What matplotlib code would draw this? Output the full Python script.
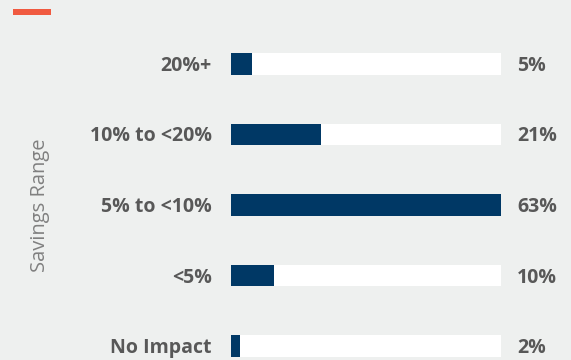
import matplotlib
matplotlib.use("Agg")
import matplotlib.pyplot as plt

# Data
categories = ["20%+", "10% to <20%", "5% to <10%", "<5%", "No Impact"]
values = [5, 21, 63, 10, 2]
value_labels = ["5%", "21%", "63%", "10%", "2%"]

bg = "#eef0ef"
bar_color = "#003865"
text_color = "#585858"

fig = plt.figure(figsize=(5.71, 3.60), dpi=100, facecolor=bg)
ax = fig.add_axes([231 / 571, 3 / 360, 270 / 571, 304 / 360])
ax.set_facecolor(bg)

h = 0.31
y = list(range(len(categories)))
ax.barh(y, [max(values)] * len(values), height=h, color="white")
ax.barh(y, values, height=h, color=bar_color)
ax.set_xlim(0, max(values))
ax.set_ylim(len(categories) - 1 + h / 2, -h / 2)
ax.axis("off")

for yi, cat, lab in zip(y, categories, value_labels):
    ax.annotate(cat, xy=(0, yi), xytext=(-19, -2), textcoords="offset pixels",
                ha="right", va="center", fontsize=14, fontweight="bold",
                color=text_color, family="Open Sans")
    ax.annotate(lab, xy=(max(values), yi), xytext=(16, -2), textcoords="offset pixels",
                ha="left", va="center", fontsize=14, fontweight="bold",
                color=text_color, family="Open Sans")

fig.text(40 / 571, 1 - 205 / 360, "Savings Range", rotation=90, ha="center", va="center",
         fontsize=14.5, color="#808080", family="Open Sans")

# red accent line top-left
fig.add_artist(plt.Rectangle((13 / 571, 1 - 15 / 360), 38 / 571, 6 / 360,
                             transform=fig.transFigure, color="#f05a40", lw=0))

fig.savefig("out.png", dpi=100, facecolor=bg)
